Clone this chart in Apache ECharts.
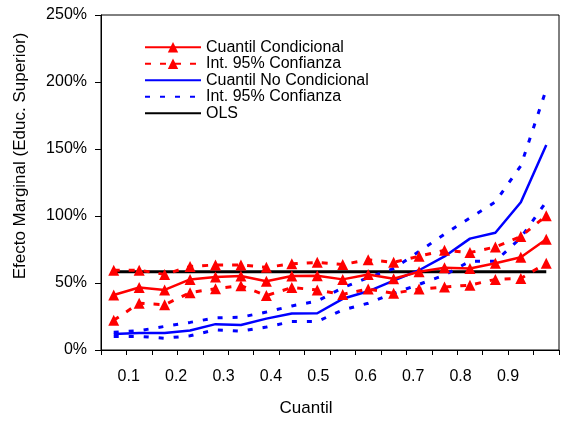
<!DOCTYPE html>
<html>
<head>
<meta charset="utf-8">
<script src="https://cdn.jsdelivr.net/npm/echarts@6/dist/echarts.min.js"></script>
<style>
html,body{margin:0;padding:0;background:#fff;}
#chart{width:561px;height:422px;}
</style>
</head>
<body>
<div id="chart"></div>
<script>
// Quantiles (categories) and axis tick labels
const categories = ['0.05','0.1','0.15','0.2','0.25','0.3','0.35','0.4','0.45','0.5','0.55','0.6','0.65','0.7','0.75','0.8','0.85','0.9'];
const xTickLabels = [0.1, 0.2, 0.3, 0.4, 0.5, 0.6, 0.7, 0.8, 0.9];

// Values in percent
const cuantilCondicional = [41.0, 46.6, 44.8, 52.7, 54.4, 55.2, 51.3, 55.2, 55.4, 52.7, 56.4, 53.2, 58.4, 61.3, 60.8, 64.8, 69.2, 82.6];
const condSuperior      = [59.6, 59.6, 56.4, 62.3, 63.5, 63.5, 61.7, 64.3, 65.4, 63.8, 67.3, 65.4, 70.0, 74.4, 72.7, 76.9, 84.7, 100.2];
const condInferior      = [22.2, 34.9, 33.8, 42.8, 45.8, 48.0, 40.6, 46.6, 44.8, 41.5, 45.6, 42.3, 45.5, 47.0, 48.4, 52.7, 53.4, 64.8];
const cuantilNoCond     = [12.0, 12.6, 12.6, 14.6, 19.3, 18.6, 23.4, 27.2, 27.4, 38.2, 43.8, 51.8, 59.5, 69.8, 83.1, 87.5, 110.3, 152.9];
const noCondSuperior    = [13.2, 14.4, 17.6, 20.6, 24.0, 24.5, 28.3, 32.9, 36.5, 46.5, 54.0, 60.8, 73.5, 86.5, 98.5, 110.5, 137.5, 194.6];
const noCondInferior    = [10.1, 10.1, 8.8, 10.6, 15.1, 14.1, 17.1, 21.3, 21.3, 29.9, 34.9, 42.3, 49.0, 55.9, 66.2, 66.2, 83.8, 110.7];
const ols               = [58.4, 58.4, 58.4, 58.4, 58.4, 58.4, 58.4, 58.4, 58.4, 58.4, 58.4, 58.4, 58.4, 58.4, 58.4, 58.4, 58.4, 58.4];

const legendNames = {
  'Cuantil Condicional': 'Cuantil Condicional',
  'IC Condicional': 'Int. 95% Confianza',
  'Cuantil No Condicional': 'Cuantil No Condicional',
  'IC No Condicional': 'Int. 95% Confianza',
  'OLS': 'OLS'
};

const FONT = "'Liberation Sans', Arial, sans-serif";
const RED = '#FF0000', BLUE = '#0000FF', BLACK = '#000000';

const chart = echarts.init(document.getElementById('chart'), null, {renderer: 'canvas'});

function lineSeries(name, data, color, opts) {
  return Object.assign({
    name: name,
    type: 'line',
    xAxisIndex: 0,
    yAxisIndex: 0,
    data: data,
    showSymbol: false,
    symbol: 'none',
    animation: false,
    lineStyle: {color: color, width: 2.5},
    itemStyle: {color: color},
    emphasis: {disabled: true}
  }, opts || {});
}

const redDashed = {type: [6, 9], width: 3, color: RED};
const blueDashed = {type: [5, 10], width: 3, color: BLUE};
const triangleOpts = {symbol: 'triangle', symbolSize: 11, showSymbol: true, showAllSymbol: true};

const option = {
  backgroundColor: '#ffffff',
  animation: false,
  textStyle: {fontFamily: FONT, color: BLACK},
  grid: {left: 101, top: 15, right: 2, bottom: 70, show: true, borderColor: BLACK, borderWidth: 1, backgroundColor: 'transparent'},
  legend: {
    orient: 'vertical',
    left: 144,
    top: 39,
    padding: 0,
    itemGap: 0,
    itemWidth: 56,
    itemHeight: 13,
    textStyle: {fontFamily: FONT, fontSize: 16, color: BLACK, lineHeight: 16.5},
    formatter: function (n) { return legendNames[n] || n; },
    data: [
      {name: 'Cuantil Condicional'},
      {name: 'IC Condicional'},
      {name: 'Cuantil No Condicional', itemStyle: {opacity: 0}},
      {name: 'IC No Condicional', itemStyle: {opacity: 0}},
      {name: 'OLS', itemStyle: {opacity: 0}}
    ]
  },
  xAxis: [
    {
      type: 'category',
      data: categories,
      boundaryGap: true,
      axisLine: {show: true, lineStyle: {color: BLACK, width: 1}},
      axisTick: {show: true, interval: 0, length: 5, lineStyle: {color: BLACK}},
      axisLabel: {show: false},
      splitLine: {show: false}
    },
    {
      type: 'value',
      position: 'bottom',
      min: 0.04157,
      max: 1.00757,
      axisLine: {show: false},
      axisTick: {show: false},
      splitLine: {show: false},
      axisLabel: {
        show: true,
        customValues: xTickLabels,
        fontFamily: FONT,
        fontSize: 16,
        color: BLACK,
        margin: 19,
        formatter: function (v) { return Number(v).toFixed(1); }
      },
      name: 'Cuantil',
      nameLocation: 'middle',
      nameGap: 50,
      nameTextStyle: {fontFamily: FONT, fontSize: 17, color: BLACK, padding: [0, 48, 0, 0]}
    }
  ],
  yAxis: {
    type: 'value',
    min: 0,
    max: 250,
    interval: 50,
    axisLine: {show: true, lineStyle: {color: BLACK, width: 1}},
    axisTick: {show: true, length: 6, lineStyle: {color: BLACK}},
    splitLine: {show: false},
    axisLabel: {fontFamily: FONT, fontSize: 16, color: BLACK, margin: 14, formatter: '{value}%'},
    name: 'Efecto Marginal (Educ. Superior)',
    nameLocation: 'middle',
    nameGap: 72,
    nameTextStyle: {fontFamily: FONT, fontSize: 17, color: BLACK, padding: [0, 0, 0, 53]}
  },
  series: [
    lineSeries('OLS', ols, BLACK, {lineStyle: {color: BLACK, width: 3}, z: 1}),
    lineSeries('IC No Condicional', noCondSuperior, BLUE, {lineStyle: blueDashed, z: 2}),
    lineSeries('IC No Condicional', noCondInferior, BLUE, {lineStyle: blueDashed, z: 2}),
    lineSeries('Cuantil No Condicional', cuantilNoCond, BLUE, {z: 3}),
    lineSeries('IC Condicional', condSuperior, RED, Object.assign({lineStyle: redDashed, z: 4}, triangleOpts)),
    lineSeries('IC Condicional', condInferior, RED, Object.assign({lineStyle: redDashed, z: 4}, triangleOpts)),
    lineSeries('Cuantil Condicional', cuantilCondicional, RED, Object.assign({z: 5}, triangleOpts))
  ]
};

chart.setOption(option);
</script>
</body>
</html>
